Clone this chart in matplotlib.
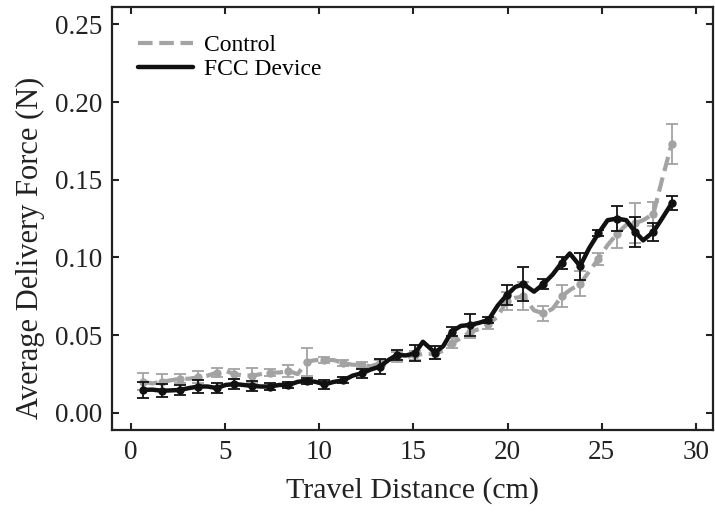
import matplotlib
matplotlib.use("Agg")
import matplotlib.pyplot as plt

# ## Data
# marker positions (cm) - error bars are drawn at these
x_marker = [0.65, 1.62, 2.6, 3.57, 4.55, 5.49, 6.44, 7.38, 8.36, 9.33,
            10.27, 11.28, 12.25, 13.22, 14.11, 15.08, 16.14, 17.03, 18.0, 18.98,
            19.95, 20.84, 21.9, 22.87, 23.85, 24.82, 25.8, 26.77, 27.74, 28.71]
# positions between markers where the curves bend
x_mid = [1.13, 2.11, 3.08, 4.06, 5.02, 5.97, 6.91, 7.87, 8.85, 9.8,
         10.78, 11.77, 12.74, 13.67, 14.6, 15.5, 16.58, 17.52, 18.49, 19.47,
         20.4, 21.4, 22.39, 23.3, 24.33, 25.31, 26.3, 27.2, 28.2]

fcc_marker = [0.0148, 0.0143, 0.0148, 0.017, 0.016, 0.0186, 0.0174, 0.017, 0.018, 0.0208,
              0.0184, 0.021, 0.0255, 0.0298, 0.0373, 0.0384, 0.0388, 0.0523, 0.0566, 0.0598,
              0.0758, 0.0829, 0.0829, 0.0966, 0.0945, 0.1155, 0.125, 0.1165, 0.1165, 0.1348]
fcc_mid = [0.015, 0.0145, 0.016, 0.017, 0.018, 0.018, 0.017, 0.018, 0.020, 0.020,
           0.020, 0.024, 0.028, 0.034, 0.037, 0.0458, 0.043, 0.056, 0.058, 0.069,
           0.081, 0.078, 0.089, 0.1026, 0.106, 0.124, 0.124, 0.111, 0.125]
fcc_err = [0.005, 0.004, 0.003, 0.004, 0.003, 0.003, 0.003, 0.002, 0.002, 0.002,
           0.003, 0.002, 0.003, 0.005, 0.003, 0.005, 0.004, 0.003, 0.007, 0.002,
           0.0066, 0.011, 0.003, 0.004, 0.0087, 0.002, 0.008, 0.0096, 0.006, 0.0045]

ctrl_marker = [0.020, 0.020, 0.022, 0.023, 0.026, 0.025, 0.024, 0.026, 0.027, 0.033,
               0.034, 0.032, 0.031, 0.032, 0.036, 0.037, 0.038, 0.045, 0.052, 0.057,
               0.072, 0.075, 0.064, 0.075, 0.083, 0.099, 0.115, 0.122, 0.128, 0.173]
ctrl_mid = [0.019, 0.021, 0.022, 0.024, 0.027, 0.024, 0.025, 0.026, 0.025, 0.034,
            0.034, 0.031, 0.030, 0.034, 0.036, 0.038, 0.040, 0.048, 0.054, 0.062,
            0.074, 0.066, 0.067, 0.079, 0.091, 0.108, 0.121, 0.124, 0.150]
ctrl_err = [0.0055, 0.005, 0.003, 0.004, 0.003, 0.003, 0.005, 0.002, 0.004, 0.009,
            0.002, 0.002, 0.002, 0.002, 0.003, 0.003, 0.003, 0.003, 0.004, 0.003,
            0.006, 0.009, 0.005, 0.007, 0.008, 0.004, 0.009, 0.013, 0.008, 0.013]

x_ticks = [0, 5, 10, 15, 20, 25, 30]
y_ticks = [0.00, 0.05, 0.10, 0.15, 0.20, 0.25]


def merge(xm, ym, xh, yh):
    # interleave marker points with the in-between points for the line
    xs, ys = [], []
    for i in range(len(xm)):
        xs.append(xm[i])
        ys.append(ym[i])
        if i < len(xh):
            xs.append(xh[i])
            ys.append(yh[i])
    return xs, ys


plt.rcParams['font.family'] = ['Liberation Serif', 'DejaVu Serif']

fig = plt.figure(figsize=(7.15, 5.13), dpi=100)
ax = fig.add_axes([0.157, 0.162, 0.84, 0.824])

grey = '#a3a3a3'

# control (dashed grey)
cx, cy = merge(x_marker, ctrl_marker, x_mid, ctrl_mid)
ax.plot(cx, cy, color=grey, lw=3, dashes=(3.5, 1.6), solid_joinstyle='round',
        label='Control', zorder=2)
ax.errorbar(x_marker, ctrl_marker, yerr=ctrl_err, fmt='o', color=grey, ms=5,
            elinewidth=1.3, capsize=4.5, capthick=1.3, zorder=2)

# FCC device (solid black)
fx, fy = merge(x_marker, fcc_marker, x_mid, fcc_mid)
ax.plot(fx, fy, color='#111111', lw=3.2, solid_joinstyle='round',
        solid_capstyle='round', label='FCC Device', zorder=3)
ax.errorbar(x_marker, fcc_marker, yerr=fcc_err, fmt='o', color='#111111', ms=5,
            elinewidth=1.3, capsize=4.5, capthick=1.3, zorder=3)

ax.set_xlim(-1.0, 30.9)
ax.set_ylim(-0.0109, 0.261)
ax.set_xticks(x_ticks)
ax.set_yticks(y_ticks)
ax.set_yticklabels(['%.2f' % v for v in y_ticks])
ax.tick_params(direction='in', top=True, right=True, length=5, width=1.5,
               labelsize=19.5, colors='#222222', pad=7)
for sp in ax.spines.values():
    sp.set_linewidth(1.6)
    sp.set_color('#222222')

ax.set_xlabel('Travel Distance (cm)', fontsize=21.5, color='#222222', labelpad=9)
ax.set_ylabel('Average Delivery Force (N)', fontsize=22, color='#222222')
ax.yaxis.set_label_coords(-0.112, 0.43)

ax.legend(loc='upper left', frameon=False, fontsize=17, handlelength=2.3,
          borderaxespad=0.7, labelspacing=0.1, handletextpad=0.5,
          bbox_to_anchor=(0.0, 0.997))

fig.savefig('out.png', dpi=100)
